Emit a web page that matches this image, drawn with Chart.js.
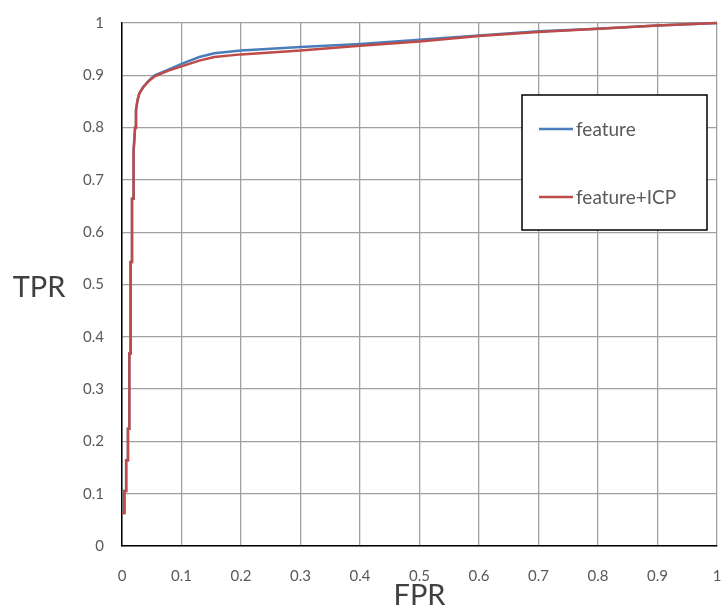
<!DOCTYPE html>
<html>
<head>
<meta charset="utf-8">
<script src="https://cdn.jsdelivr.net/npm/chart.js@4"></script>
<style>
body{margin:0;background:#fff;}
</style>
</head>
<body>
<canvas id="roc" width="723" height="612"></canvas>
<script>
// ROC points
const featureFpr = [0, 0.004, 0.004, 0.007, 0.007, 0.010, 0.010, 0.0123, 0.0123, 0.0145, 0.0145, 0.0168, 0.0168, 0.0195, 0.0195, 0.022, 0.0235, 0.026, 0.029, 0.036, 0.045, 0.055, 0.078, 0.1, 0.13, 0.155, 0.2, 0.3, 0.4, 0.5, 0.6, 0.7, 0.8, 0.9, 1];
const featureTpr = [0.063, 0.063, 0.105, 0.105, 0.164, 0.164, 0.224, 0.224, 0.368, 0.368, 0.543, 0.543, 0.664, 0.664, 0.755, 0.8, 0.833, 0.852, 0.865, 0.878, 0.89, 0.9, 0.911, 0.922, 0.935, 0.942, 0.9475, 0.954, 0.960, 0.968, 0.976, 0.984, 0.989, 0.995, 1];

const icpFpr = [0, 0.004, 0.004, 0.007, 0.007, 0.010, 0.010, 0.0123, 0.0123, 0.0145, 0.0145, 0.0168, 0.0168, 0.0195, 0.0195, 0.022, 0.0235, 0.026, 0.029, 0.036, 0.045, 0.055, 0.078, 0.1, 0.13, 0.155, 0.2, 0.3, 0.4, 0.5, 0.6, 0.7, 0.8, 0.9, 1];
const icpTpr = [0.063, 0.063, 0.105, 0.105, 0.164, 0.164, 0.224, 0.224, 0.368, 0.368, 0.543, 0.543, 0.664, 0.664, 0.755, 0.8, 0.833, 0.852, 0.865, 0.878, 0.889, 0.898, 0.909, 0.917, 0.928, 0.935, 0.94, 0.9475, 0.9566, 0.9645, 0.975, 0.983, 0.989, 0.995, 1];

const seriesNames = ["feature", "feature+ICP"];
const seriesColors = ["#4a7ebb", "#be4b48"];
const axisTicks = [0, 0.1, 0.2, 0.3, 0.4, 0.5, 0.6, 0.7, 0.8, 0.9, 1];

const toPoints = (xs, ys) => xs.map((x, i) => ({x: x, y: ys[i]}));

const FONT = "Lato, 'Open Sans', sans-serif";

// axis titles (TPR is horizontal) + legend box
const extras = {
id: "extras",
afterDraw(chart) {
const {ctx, chartArea} = chart;
ctx.save();
ctx.fillStyle = "#404040";
ctx.font = "29px " + FONT;
ctx.textAlign = "center";
ctx.textBaseline = "middle";
ctx.fillText("TPR", 39, 288);
ctx.fillText("FPR", (chartArea.left + chartArea.right) / 2, 596);

// legend
const bx = 522, by = 95, bw = 185, bh = 135;
ctx.fillStyle = "#fff";
ctx.fillRect(bx, by, bw, bh);
ctx.strokeStyle = "#000";
ctx.lineWidth = 1.5;
ctx.strokeRect(bx, by, bw, bh);
const rows = [129, 197];
ctx.font = "19px " + FONT;
ctx.textAlign = "left";
seriesNames.forEach((name, i) => {
ctx.strokeStyle = seriesColors[i];
ctx.lineWidth = 2.5;
ctx.beginPath();
ctx.moveTo(539, rows[i]);
ctx.lineTo(573, rows[i]);
ctx.stroke();
ctx.fillStyle = "#595959";
ctx.fillText(name, 576, rows[i] + 1);
});
ctx.restore();
}
};

const tickFmt = v => Number(v.toFixed(1)).toString();

new Chart(document.getElementById("roc"), {
type: "scatter",
data: {
datasets: [
{
label: seriesNames[0],
data: toPoints(featureFpr, featureTpr),
borderColor: seriesColors[0],
showLine: true,
pointRadius: 0,
borderWidth: 2.5,
tension: 0,
clip: false,
order: 2
},
{
label: seriesNames[1],
data: toPoints(icpFpr, icpTpr),
borderColor: seriesColors[1],
showLine: true,
pointRadius: 0,
borderWidth: 2.5,
tension: 0,
clip: false,
order: 1
}
]
},
options: {
responsive: false,
animation: false,
layout: {padding: {top: 23, right: 6, left: 0, bottom: 0}},
plugins: {legend: {display: false}, tooltip: {enabled: false}},
scales: {
x: {
type: "linear",
min: 0,
max: 1,
afterBuildTicks: s => { s.ticks = axisTicks.map(v => ({value: v})); },
afterFit: s => { s.height = 66; s.paddingLeft = 0; s.paddingRight = 0; },
grid: {color: "#a0a0a0", lineWidth: 1.3, drawTicks: false},
border: {color: "#000", width: 1.5},
ticks: {
padding: 21,
color: "#595959",
font: {family: FONT, size: 15},
callback: tickFmt,
maxRotation: 0
}
},
y: {
type: "linear",
min: 0,
max: 1,
afterBuildTicks: s => { s.ticks = axisTicks.map(v => ({value: v})); },
afterFit: s => { s.width = 122; s.paddingTop = 0; s.paddingBottom = 0; },
grid: {color: "#a0a0a0", lineWidth: 1.3, drawTicks: false},
border: {color: "#000", width: 1.5},
ticks: {
padding: 18,
color: "#595959",
font: {family: FONT, size: 15},
callback: tickFmt
}
}
}
},
plugins: [extras]
});
</script>
</body>
</html>
